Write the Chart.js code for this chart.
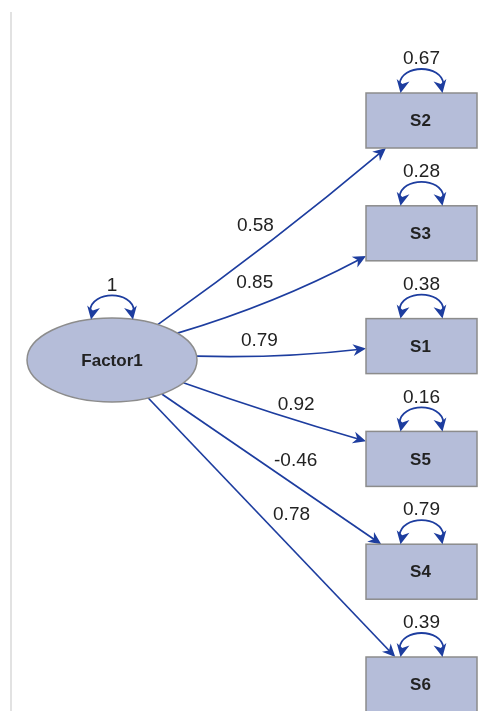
<!DOCTYPE html>
<html>
<head>
<meta charset="utf-8">
<script src="https://cdn.jsdelivr.net/npm/chart.js@4.4.1/dist/chart.umd.min.js"></script>
<style>
    html, body { margin: 0; padding: 0; background: #ffffff; }
    #wrap { width: 484px; height: 711px; position: relative; }
</style>
</head>
<body>
<div id="wrap"><canvas id="pathChart"></canvas></div>
<script>
// Data
const factorName = 'Factor1';
const factorVariance = 1;
const indicators = ['S2', 'S3', 'S1', 'S5', 'S4', 'S6'];
const loadings = [0.58, 0.85, 0.79, 0.92, -0.46, 0.78];
const errorVariances = [0.67, 0.28, 0.38, 0.16, 0.79, 0.39];

// Layout (diagram units: x 0 = factor column, 1 = indicator column; y = row)
const factorRow = 2.123;
const edgeBow = [6, 10, 6, 3, 0, 0];
const labelT = [0.42, 0.40, 0.37, 0.62, 0.61, 0.58];
const labelLift = [27, 24, 15, 16, 25, 33];

// Styles
const colors = {
    fill: '#b5bdd9',
    border: '#8c8c8c',
    arrow: '#1d3d9f',
    text: '#222222',
    rule: '#e2e2e2'
};
const sizes = { rx: 85, ry: 42, boxW: 111, boxH: 55 };
const FONT = '"Liberation Sans", Arial, Helvetica, sans-serif';

function arrowHead(ctx, tip, dirX, dirY, L = 12, W = 5.5) {
    const len = Math.hypot(dirX, dirY) || 1;
    const ux = dirX / len, uy = dirY / len;
    ctx.beginPath();
    ctx.moveTo(tip.x, tip.y);
    ctx.lineTo(tip.x - ux * L - uy * W, tip.y - uy * L + ux * W);
    ctx.lineTo(tip.x - ux * L * 0.7, tip.y - uy * L * 0.7);
    ctx.lineTo(tip.x - ux * L + uy * W, tip.y - uy * L - ux * W);
    ctx.closePath();
    ctx.fill();
}

// Double-headed variance arc above a node
function varianceArc(ctx, cx, yLeft, yRight, label) {
    const x1 = cx - 22, x2 = cx + 22;
    const top = Math.min(yLeft, yRight);
    ctx.strokeStyle = colors.arrow;
    ctx.fillStyle = colors.arrow;
    ctx.lineWidth = 1.8;
    ctx.beginPath();
    ctx.moveTo(x1, yLeft - 9);
    ctx.bezierCurveTo(x1 + 2, top - 29, x2 - 2, top - 29, x2, yRight - 9);
    ctx.stroke();
    arrowHead(ctx, { x: x1 + 1, y: yLeft }, -0.2, 1, 13, 6.5);
    arrowHead(ctx, { x: x2 - 1, y: yRight }, 0.2, 1, 13, 6.5);

    ctx.fillStyle = colors.text;
    ctx.font = '19px ' + FONT;
    ctx.textAlign = 'center';
    ctx.textBaseline = 'middle';
    ctx.fillText(label, cx, top - 34);
}

const pathPlugin = {
    id: 'pathDiagram',
    afterDatasetsDraw(chart) {
        const ctx = chart.ctx;
        const xs = chart.scales.x, ys = chart.scales.y;
        const fc = { x: xs.getPixelForValue(0), y: ys.getPixelForValue(factorRow) };
        const { rx, ry, boxW, boxH } = sizes;

        ctx.save();

        // left rule
        ctx.strokeStyle = colors.rule;
        ctx.lineWidth = 2;
        ctx.beginPath();
        ctx.moveTo(11, 12);
        ctx.lineTo(11, chart.height);
        ctx.stroke();

        // edges
        indicators.forEach((name, i) => {
            const bc = { x: xs.getPixelForValue(1), y: ys.getPixelForValue(i) };
            const dx = bc.x - fc.x, dy = bc.y - fc.y;
            const s = 1 / Math.sqrt((dx / rx) ** 2 + (dy / ry) ** 2);
            const start = { x: fc.x + dx * s, y: fc.y + dy * s };
            const tEnter = Math.max((Math.abs(dx) - boxW / 2) / Math.abs(dx),
                                    (Math.abs(dy) - boxH / 2) / Math.abs(dy));
            const end = { x: fc.x + dx * tEnter, y: fc.y + dy * tEnter };
            const len = Math.hypot(end.x - start.x, end.y - start.y);
            const nx = -(end.y - start.y) / len, ny = (end.x - start.x) / len;
            const ctrl = {
                x: (start.x + end.x) / 2 + nx * edgeBow[i],
                y: (start.y + end.y) / 2 + ny * edgeBow[i]
            };
            const tx = end.x - ctrl.x, ty = end.y - ctrl.y;
            const tl = Math.hypot(tx, ty);
            ctx.strokeStyle = colors.arrow;
            ctx.fillStyle = colors.arrow;
            ctx.lineWidth = 1.7;
            ctx.beginPath();
            ctx.moveTo(start.x, start.y);
            ctx.quadraticCurveTo(ctrl.x, ctrl.y, end.x - tx / tl * 8, end.y - ty / tl * 8);
            ctx.stroke();
            arrowHead(ctx, end, tx, ty, 13, 6);

            // loading label
            const t = labelT[i];
            const px = (1 - t) * (1 - t) * start.x + 2 * t * (1 - t) * ctrl.x + t * t * end.x;
            const py = (1 - t) * (1 - t) * start.y + 2 * t * (1 - t) * ctrl.y + t * t * end.y;
            ctx.fillStyle = colors.text;
            ctx.font = '19px ' + FONT;
            ctx.textAlign = 'center';
            ctx.textBaseline = 'middle';
            ctx.fillText(loadings[i].toFixed(2), px, py - labelLift[i]);
        });

        // factor ellipse
        ctx.fillStyle = colors.fill;
        ctx.strokeStyle = colors.border;
        ctx.lineWidth = 1.5;
        ctx.beginPath();
        ctx.ellipse(fc.x, fc.y, rx, ry, 0, 0, Math.PI * 2);
        ctx.fill();
        ctx.stroke();
        ctx.fillStyle = colors.text;
        ctx.font = 'bold 17px ' + FONT;
        ctx.textAlign = 'center';
        ctx.textBaseline = 'middle';
        ctx.fillText(factorName, fc.x, fc.y + 1);

        const yOnEllipse = (x) => fc.y - ry * Math.sqrt(1 - ((x - fc.x) / rx) ** 2);
        varianceArc(ctx, fc.x, yOnEllipse(fc.x - 22), yOnEllipse(fc.x + 22), String(factorVariance));

        // indicator boxes
        indicators.forEach((name, i) => {
            const cx = xs.getPixelForValue(1), cy = ys.getPixelForValue(i);
            ctx.fillStyle = colors.fill;
            ctx.strokeStyle = colors.border;
            ctx.lineWidth = 1.5;
            ctx.fillRect(cx - boxW / 2, cy - boxH / 2, boxW, boxH);
            ctx.strokeRect(cx - boxW / 2, cy - boxH / 2, boxW, boxH);
            ctx.fillStyle = colors.text;
            ctx.font = 'bold 17px ' + FONT;
            ctx.textAlign = 'center';
            ctx.textBaseline = 'middle';
            ctx.fillText(name, cx - 1, cy + 1);

            const top = cy - boxH / 2;
            varianceArc(ctx, cx, top, top, errorVariances[i].toFixed(2));
        });

        ctx.restore();
    }
};

new Chart(document.getElementById('pathChart'), {
    type: 'scatter',
    data: {
        datasets: [{
            data: [{ x: 0, y: factorRow }].concat(indicators.map((_, i) => ({ x: 1, y: i }))),
            pointRadius: 0
        }]
    },
    options: {
        responsive: true,
        maintainAspectRatio: false,
        animation: false,
        layout: { padding: 0 },
        plugins: { legend: { display: false }, tooltip: { enabled: false } },
        scales: {
            x: { type: 'linear', display: false, min: -0.3619, max: 1.2019 },
            y: { type: 'linear', display: false, reverse: true, min: -1.0683, max: 5.2349 }
        }
    },
    plugins: [pathPlugin]
});
</script>
</body>
</html>
